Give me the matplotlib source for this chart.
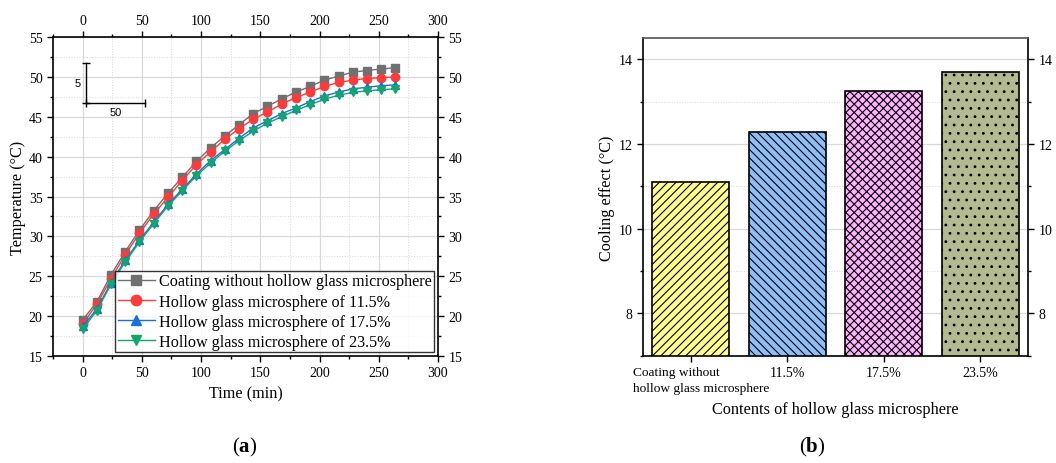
import matplotlib
matplotlib.use("Agg")
import matplotlib.pyplot as plt
from matplotlib.ticker import MultipleLocator
import numpy as np

plt.rcParams['font.family'] = 'Liberation Serif'
plt.rcParams['mathtext.fontset'] = 'custom'
plt.rcParams['mathtext.rm'] = 'Liberation Serif'
plt.rcParams['mathtext.bf'] = 'Liberation Serif:bold'
plt.rcParams['hatch.linewidth'] = 0.8

# ---- data (a): temperature vs time ----
time_min = [0, 12, 24, 36, 48, 60, 72, 84, 96, 108, 120, 132,
            144, 156, 168, 180, 192, 204, 216, 228, 240, 252, 264]
t_coating = [19.5, 21.8, 25.2, 28.1, 30.8, 33.2, 35.4, 37.4, 39.4, 41.1, 42.6, 44.0,
             45.4, 46.3, 47.25, 48.1, 48.8, 49.6, 50.1, 50.6, 50.8, 51.0, 51.15]
t_115 = [19.0, 21.5, 24.7, 27.7, 30.4, 32.8, 34.9, 37.0, 39.0, 40.6, 42.2, 43.5,
         44.7, 45.6, 46.6, 47.4, 48.1, 48.8, 49.3, 49.6, 49.8, 49.9, 50.0]
t_175 = [18.7, 20.9, 24.2, 27.0, 29.5, 31.8, 34.0, 35.9, 37.8, 39.5, 40.9, 42.3,
         43.6, 44.5, 45.4, 46.1, 46.9, 47.6, 48.1, 48.5, 48.7, 48.9, 49.0]
t_235 = [18.35, 20.7, 24.0, 26.8, 29.3, 31.6, 33.8, 35.7, 37.6, 39.2, 40.7, 42.0,
         43.2, 44.2, 45.0, 45.8, 46.5, 47.2, 47.7, 48.05, 48.25, 48.4, 48.5]
series_labels = ["Coating without hollow glass microsphere",
                 "Hollow glass microsphere of 11.5%",
                 "Hollow glass microsphere of 17.5%",
                 "Hollow glass microsphere of 23.5%"]

# ---- data (b): cooling effect ----
categories = ["Coating without\nhollow glass microsphere", "11.5%", "17.5%", "23.5%"]
cooling = [11.1, 12.28, 13.26, 13.69]

fig = plt.figure(figsize=(10.56, 4.64), dpi=100)

# ================= panel a =================
ax = fig.add_axes([0.0502, 0.2306, 0.3646, 0.6874])
styles = [("#707070", "s"), ("#FF3A3A", "o"), ("#1A6FDF", "^"), ("#12A66E", "v")]
for ys, (c, m), lab in zip([t_coating, t_115, t_175, t_235], styles, series_labels):
    ax.plot(time_min, ys, color=c, marker=m, ms=6, lw=1.0, label=lab)

ax.set_xlim(-25, 300)
ax.set_ylim(15, 55)
ax.xaxis.set_major_locator(MultipleLocator(50))
ax.xaxis.set_minor_locator(MultipleLocator(25))
ax.yaxis.set_major_locator(MultipleLocator(5))
ax.yaxis.set_minor_locator(MultipleLocator(2.5))
ax.grid(which='major', color='#d9d9d9', lw=0.9)
ax.grid(which='minor', color='#d9d9d9', lw=0.7, ls=':')
ax.set_axisbelow(True)
ax.tick_params(which='both', direction='out', top=True, right=True,
               labeltop=True, labelright=True, labelsize=10, width=1.0)
ax.tick_params(which='major', length=4)
ax.tick_params(which='minor', length=2.5)
for s in ax.spines.values():
    s.set_linewidth(1.2)
ax.set_xlabel("Time (min)", fontsize=11.7)
ax.set_ylabel("Temperature (°C)", fontsize=11.7, labelpad=2)

leg = ax.legend(loc='lower right', fontsize=11.6, frameon=True, fancybox=False,
                edgecolor='black', borderpad=0.15, borderaxespad=0.25,
                handlelength=2.3, handletextpad=0.25, labelspacing=0.25,
                markerscale=1.25)
leg.get_frame().set_linewidth(1.0)

# scale bar
ax.plot([3, 3], [46.7, 51.7], color='black', lw=1.0, marker='_', ms=6)
ax.plot([3, 53], [46.7, 46.7], color='black', lw=1.0, marker='|', ms=6)
ax.text(-2, 49.2, "5", family='Liberation Sans', fontsize=8, ha='right', va='center')
ax.text(28, 45.6, "50", family='Liberation Sans', fontsize=8, ha='center', va='center')

# ================= panel b =================
bx = fig.add_axes([0.6086, 0.2313, 0.3652, 0.6847])
xpos = np.arange(len(cooling))
bar_colors = ["#FFFF8F", "#8FBDF5", "#FFB3FF", "#B3BA8F"]
hatches = ["////", "\\\\\\\\", "xxxx", ".."]
for x, v, c, h in zip(xpos, cooling, bar_colors, hatches):
    bx.bar(x, v, width=0.8, color=c, edgecolor='black', lw=1.2, hatch=h)

bx.set_xlim(-0.5, 3.5)
bx.set_ylim(7, 14.5)
bx.set_xticks(xpos)
# first label is left aligned a bit left of its tick, as in the original
bx.set_xticklabels([""] + categories[1:], fontsize=10.5)
bx.annotate(categories[0], xy=(xpos[0], 0), xycoords=('data', 'axes fraction'),
            xytext=(-58, -10), textcoords='offset pixels', ha='left', va='top',
            fontsize=9.6, multialignment='left', linespacing=1.45)
bx.yaxis.set_major_locator(MultipleLocator(2))
bx.yaxis.set_minor_locator(MultipleLocator(1))
bx.grid(axis='y', which='major', color='#d9d9d9', lw=0.9)
bx.grid(axis='y', which='minor', color='#d9d9d9', lw=0.7, ls=':')
bx.set_axisbelow(True)
bx.tick_params(which='both', direction='out', right=True, labelright=True,
               labelsize=10, width=1.0)
bx.tick_params(which='major', length=4)
bx.tick_params(which='minor', length=2.5)
bx.tick_params(axis='x', which='minor', bottom=False)
for s in bx.spines.values():
    s.set_linewidth(1.2)
bx.spines['top'].set_color('#555555')
bx.set_ylabel("Cooling effect (°C)", fontsize=11.7, labelpad=2)
bx.set_xlabel("Contents of hollow glass microsphere", fontsize=11.7, labelpad=16)

fig.text(245 / 1056, 1 - 447 / 464, r"($\mathbf{a}$)", fontsize=15, ha='center', va='center')
fig.text(812 / 1056, 1 - 447 / 464, r"($\mathbf{b}$)", fontsize=15, ha='center', va='center')

fig.savefig("out.png", dpi=100)
